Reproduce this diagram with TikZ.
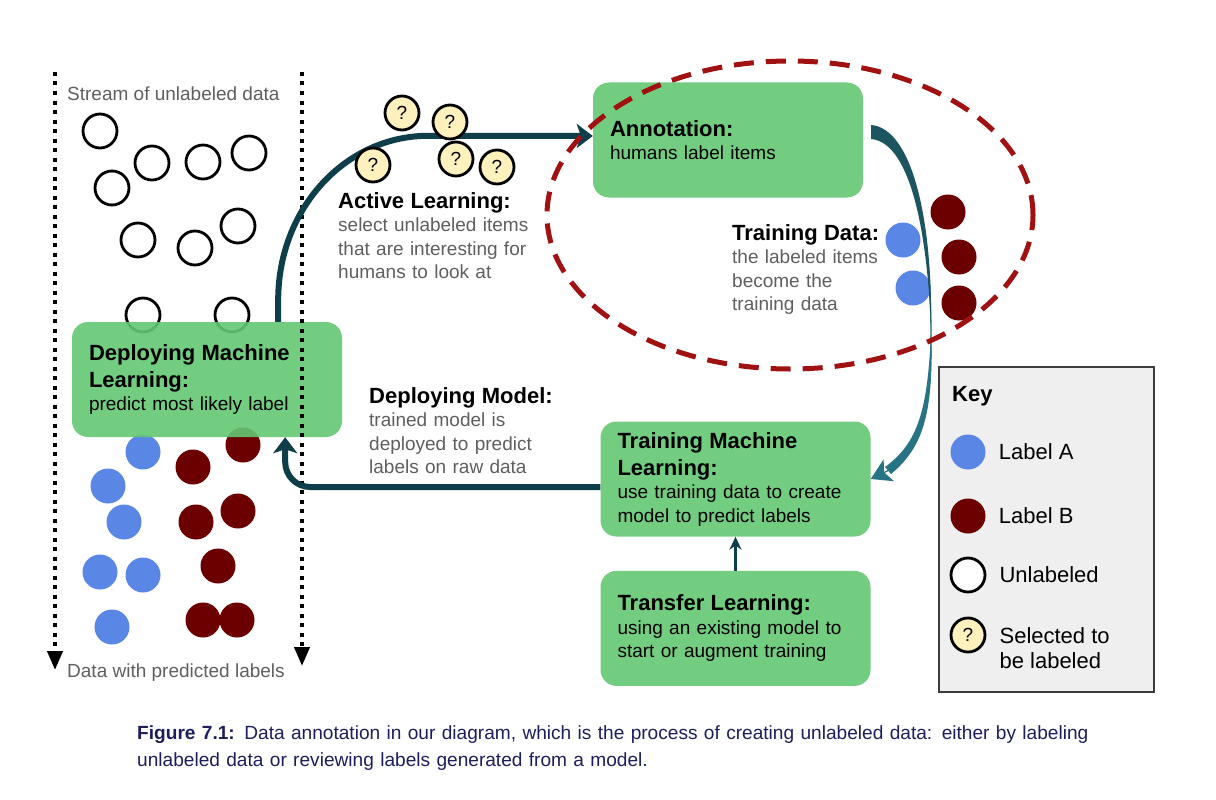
\documentclass[tikz,border=0pt]{standalone}
\usepackage{fontspec}
\setmainfont{Liberation Sans}
\usepackage{tikz}
\usetikzlibrary{arrows.meta,positioning,shapes.geometric}

\definecolor{boxgreen}{RGB}{100,200,115}
\definecolor{flowteal}{RGB}{14,62,74}
\definecolor{tapertop}{RGB}{28,84,96}
\definecolor{taperlow}{RGB}{40,116,132}
\definecolor{labela}{RGB}{90,135,230}
\definecolor{labelb}{RGB}{108,0,0}
\definecolor{pickyellow}{RGB}{255,241,190}
\definecolor{loopred}{RGB}{160,18,18}
\definecolor{notegray}{RGB}{95,95,95}
\definecolor{keygray}{RGB}{239,239,239}
\definecolor{keyedge}{RGB}{60,60,60}
\definecolor{capnavy}{RGB}{30,30,92}

\newcommand{\titlefont}{\fontsize{22}{27}\selectfont\bfseries}
\newcommand{\bodyfont}{\fontsize{19}{23.5}\selectfont}

\begin{document}
\begin{tikzpicture}[%
  x=1pt, y=-1pt,
  stage/.style={rectangle, rounded corners=16pt, fill=boxgreen, fill opacity=0.9,
    text opacity=1, text width=236pt, inner xsep=17pt, inner ysep=4pt,
    minimum height=115pt, align=left, font=\bodyfont},
  note/.style={anchor=north west, inner sep=0pt, text width=240pt, align=left,
    text=notegray, font=\bodyfont},
  unl/.style={circle, draw=black, line width=2.8pt, minimum size=34pt, inner sep=0pt},
  dota/.style={circle, fill=labela, minimum size=35pt, inner sep=0pt},
  dotb/.style={circle, fill=labelb, minimum size=35pt, inner sep=0pt},
  pick/.style={circle, draw=black, fill=pickyellow, line width=2.8pt, minimum size=34pt,
    inner sep=0pt, font=\bodyfont},
  streamline/.style={line width=4pt, dash pattern=on 4pt off 5.5pt,
    -{Triangle[length=19pt,width=15pt]}},
  flow/.style={flowteal, line width=6pt, -{Stealth[length=16pt,width=24pt,inset=4pt]}},
  keytext/.style={inner sep=0pt, font=\fontsize{22}{25.5}\selectfont, align=left}]

\fill[white] (0,0) rectangle (1216,800);
\useasboundingbox (0,0) rectangle (1216,800);

% stream of data, left column
\node[anchor=base west, inner sep=0pt, text=notegray, font=\bodyfont] (streamtop) at (67,100)
  {Stream of unlabeled data};
\node[anchor=base west, inner sep=0pt, text=notegray, font=\bodyfont] (streambot) at (67,677)
  {Data with predicted labels};
\foreach \px/\py [count=\i] in {100/131,152/163,203/162,249/153,112/188,
    138/240,195/248,238/226,143/315,232/315}
  \node[unl] (u\i) at (\px,\py) {};
\foreach \px/\py [count=\i] in {143/452,108/486,124/522,100/572,143/575,112/627}
  \node[dota] (pa\i) at (\px,\py) {};
\foreach \px/\py [count=\i] in {243/445,193/467,238/511,196/522,218/566,203/620,237/620}
  \node[dotb] (pb\i) at (\px,\py) {};

\node[stage] (deploy) at (207,379.5)
  {{\titlefont Deploying Machine\\Learning:\par}predict most likely label};

\coordinate (leftin) at (55,72);
\coordinate (leftout) at (55,670);
\coordinate (rightin) at (302,72);
\coordinate (rightout) at (302,666);
\draw[streamline] (leftin) -- (leftout);
\draw[streamline] (rightin) -- (rightout);

% the loop
\node[stage] (annot) at (728,140) {{\titlefont Annotation:\par}humans label items};
\node[stage] (train) at (735.5,479)
  {{\titlefont Training Machine\\Learning:\par}use training data to create\\model to predict labels};
\node[stage, below=34pt of train] (transfer)
  {{\titlefont Transfer Learning:\par}using an existing model to\\start or augment training};

\draw[flow] ([xshift=-64pt]deploy.north east) -- ++(0,-22)
  .. controls +(0,-91) and +(-83,0) .. ++(150,-164) -- ([yshift=4pt]annot.west);
\draw[flow, rounded corners=25pt] ([yshift=-8pt]train.west) -| ([xshift=-57pt]deploy.south east);
\draw[flowteal, line width=2.5pt, -{Stealth[length=13pt,width=12pt]}] (transfer) -- (train);

\foreach \px/\py [count=\i] in {402/113,450/122,373/165,456/159,497/167}
  \node[pick] (q\i) at (\px,\py) {?};

\node[note] (activenote) at (338,192)
  {{\color{black}\titlefont Active Learning:\par}select unlabeled items\\that are interesting for\\humans to look at};
\node[note] (deploynote) at (369,387)
  {{\color{black}\titlefont Deploying Model:\par}trained model is\\deployed to predict\\labels on raw data};
\node[note, text width=170pt] (datanote) at (732,224)
  {{\color{black}\titlefont Training Data:\par}the labeled items\\become the\\training data};

\foreach \px/\py [count=\i] in {903/240,913/288}
  \node[dota] (ta\i) at (\px,\py) {};
\foreach \px/\py [count=\i] in {948/212,959/257,959/303}
  \node[dotb] (tb\i) at (\px,\py) {};

% tapered arrow from annotation to training
\draw[taperlow, line width=1.3pt, -{Stealth[length=20pt,width=24pt,inset=5pt]}]
  ([xshift=8pt,yshift=8pt]annot.east) .. controls +(39,3) and +(-1,-110) .. (931,330)
  .. controls +(1,90) and +(50,-24) .. (train.east);
\fill[tapertop] (871,125) .. controls (912,128) and (933,220) .. (931,330)
  .. controls (927,222) and (908,142) .. (871,139) -- cycle;
\fill[taperlow] (931,330) .. controls (934,410) and (924,447) .. (891,474)
  -- (885,467) .. controls (918,443) and (928,410) .. (931,330) -- cycle;

\node[ellipse, draw=loopred, line width=5pt, dash pattern=on 20pt off 12pt,
  minimum width=486pt, minimum height=308pt] (loop) at (790,215) {};

% key
\node[rectangle, draw=keyedge, fill=keygray, line width=1.5pt,
  minimum width=215pt, minimum height=325pt] (key) at (1046.5,529.5) {};
\node[anchor=base west, inner sep=0pt, font=\titlefont] (keytitle) at (952,401) {Key};
\node[dota] (keya) at (968,452) {};
\node[dotb] (keyb) at (968,516) {};
\node[unl, fill=white] (keyu) at (968,575) {};
\node[pick] (keyq) at (968,635) {?};
\node[keytext, right=13pt of keya] (keyatext) {Label A};
\node[keytext, right=13pt of keyb] (keybtext) {Label B};
\node[keytext, right=13pt of keyu] (keyutext) {Unlabeled};
\node[keytext, right=13pt of keyq, yshift=-13pt] (keyqtext) {Selected to\\be labeled};

\node[anchor=north west, inner sep=0pt, text width=1050pt, align=left, text=capnavy,
  font=\fontsize{19.1}{27}\selectfont] (caption) at (137,725)
  {{\bfseries Figure 7.1:} Data annotation in our diagram, which is the process of creating unlabeled data: either by labeling\\unlabeled data or reviewing labels generated from a model.};
\end{tikzpicture}
\end{document}
